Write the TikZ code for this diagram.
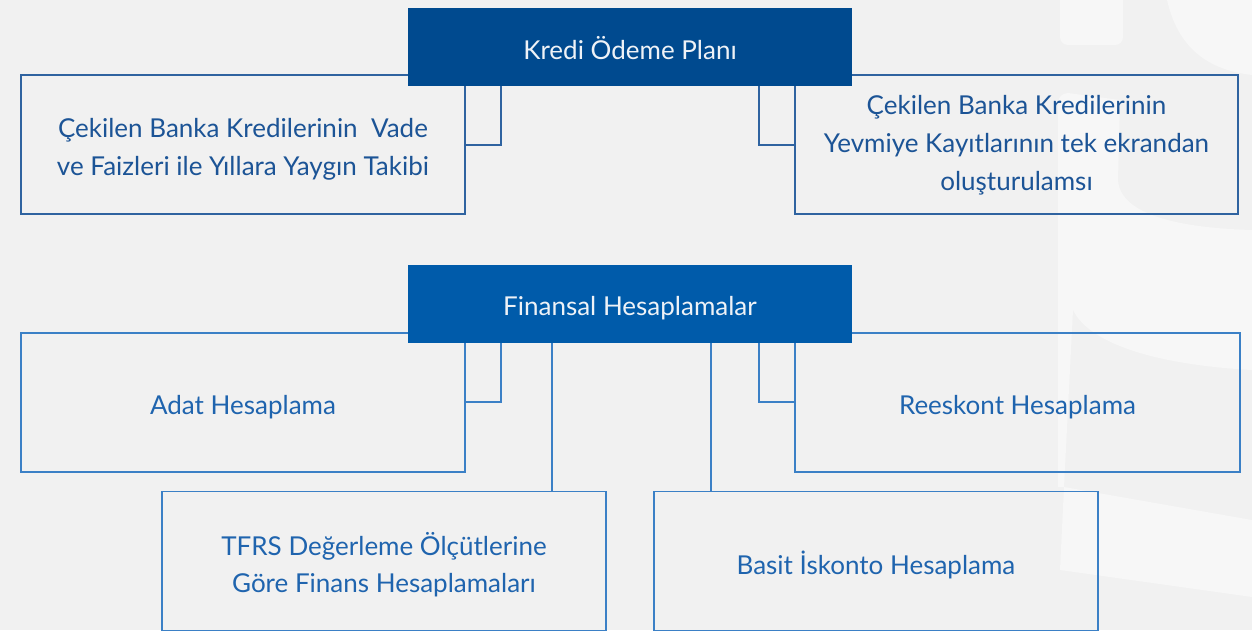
\documentclass[tikz,border=0pt]{standalone}
\usepackage{fontspec}
\setmainfont{Lato}
\usetikzlibrary{calc}
\definecolor{bg}{HTML}{F1F1F1}
\definecolor{logo}{HTML}{F7F7F7}
\definecolor{hdone}{HTML}{004A8F}
\definecolor{hdtwo}{HTML}{005BAA}
\definecolor{lineone}{HTML}{2F63A0}
\definecolor{linetwo}{HTML}{3B80C6}
\definecolor{txtone}{HTML}{1C5496}
\definecolor{txttwo}{HTML}{1F64AE}
\definecolor{hdtxt}{HTML}{EEF2F7}
\begin{document}
\begin{tikzpicture}[x=1pt,y=-1pt,
  header/.style={minimum width=444pt,minimum height=78pt,inner sep=0pt},
  hdlabel/.style={inner sep=0pt,text=hdtxt,font=\fontsize{26}{30}\selectfont},
  boxone/.style={draw=lineone,line width=1.4pt,fill=none,minimum height=139pt,inner sep=0pt},
  boxtwo/.style={draw=linetwo,line width=1.4pt,fill=none,minimum height=139pt,inner sep=0pt},
  lblone/.style={inner sep=0pt,text=txtone,align=center,font=\fontsize{26}{38}\selectfont},
  lbltwo/.style={inner sep=0pt,text=txttwo,align=center,font=\fontsize{26}{37}\selectfont},
  connone/.style={draw=lineone,line width=1.3pt},
  conntwo/.style={draw=linetwo,line width=1.3pt}]
\fill[bg] (0,0) rectangle (1252,630);
\useasboundingbox (0,0) rectangle (1252,630);
% faint logo shapes
\fill[logo] (1060,-2) -- (1123,-2) -- (1123,37) arc[start angle=0,end angle=90,radius=8] -- (1068,45) arc[start angle=90,end angle=180,radius=8] -- cycle;
\fill[logo] (1167,0) .. controls (1178,48) and (1208,70) .. (1252,75) -- (1252,0) -- cycle;
\fill[logo] (1058,103) arc[start angle=180,end angle=270,radius=10] -- (1120,100) -- (1118,180) .. controls (1120,215) and (1180,228) .. (1252,230) -- (1252,370) .. controls (1160,365) and (1090,345) .. (1073,310) -- (1064,487) -- (1058,487) -- cycle;
\fill[logo] (1064,487) -- (1252,520) -- (1252,597) -- (1060,570) -- cycle;
% boxes
\node[boxone,minimum width=444pt] (b1) at (243,144.5) {};
\node[boxone,minimum width=443pt] (b2) at (1016.5,144.5) {};
\node[boxtwo,minimum width=444pt] (b3) at (243,402.5) {};
\node[boxtwo,minimum width=445pt] (b4) at (1017.5,402.5) {};
\node[boxtwo,minimum width=444pt] (b5) at (384,561) {};
\node[boxtwo,minimum width=444pt] (b6) at (876,561) {};
\node[lblone] (t1) at ([yshift=-4.5pt]b1.center) {Çekilen Banka Kredilerinin~ Vade\\ve Faizleri ile Yıllara Yaygın Takibi};
\node[lblone] (t2) at ([yshift=-1pt]b2.center) {Çekilen Banka Kredilerinin\\Yevmiye Kayıtlarının tek ekrandan\\oluşturulamsı};
\node[lbltwo] (t3) at ([yshift=-5pt]b3.center) {Adat Hesaplama};
\node[lbltwo] (t4) at ([yshift=-5pt]b4.center) {Reeskont Hesaplama};
\node[lbltwo] (t5) at ([yshift=-4pt]b5.center) {TFRS Değerleme Ölçütlerine\\Göre Finans Hesaplamaları};
\node[lbltwo] (t6) at ([yshift=-4pt]b6.center) {Basit İskonto Hesaplama};
% headers
\node[header,fill=hdone] (h1) at (630,47) {};
\node[header,fill=hdtwo] (h2) at (630,304) {};
\node[hdlabel] at ([yshift=-1pt]h1.center) {Kredi Ödeme Planı};
\node[hdlabel] at ([yshift=-4pt]h2.center) {Finansal Hesaplamalar};
% connectors
\coordinate (k1) at (501,145);
\coordinate (k2) at (759,145);
\coordinate (k3) at (501,402);
\coordinate (k4) at (759,402);
\coordinate (k5) at (552,491);
\coordinate (k6) at (711,491);
\draw[connone] (h1.south -| k1) |- (b1.east |- k1);
\draw[connone] (h1.south -| k2) |- (b2.west |- k2);
\draw[conntwo] (h2.south -| k3) |- (b3.east |- k3);
\draw[conntwo] (h2.south -| k4) |- (b4.west |- k4);
\draw[conntwo] (h2.south -| k5) -- (b5.north -| k5);
\draw[conntwo] (h2.south -| k6) -- (b6.north -| k6);
\end{tikzpicture}
\end{document}
